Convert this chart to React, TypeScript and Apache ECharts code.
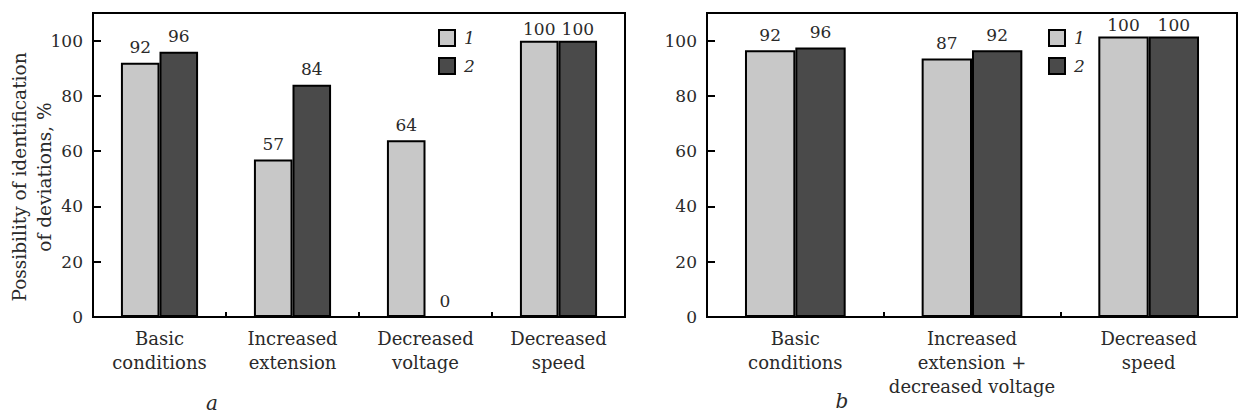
import React, { useEffect, useRef } from "react";
import * as echarts from "echarts";

const categoriesA = ["Basic\nconditions", "Increased\nextension", "Decreased\nvoltage", "Decreased\nspeed"];
const valuesA1 = [92, 57, 64, 100];
const valuesA2 = [96, 84, 0, 100];

const categoriesB = ["Basic\nconditions", "Increased\nextension +\ndecreased voltage", "Decreased\nspeed"];
// bar heights as drawn in panel b
const valuesB1 = [96.5, 93.5, 101.5];
const valuesB2 = [97.5, 96.5, 101.5];
// value labels printed above the bars in panel b
const labelsB1 = [92, 87, 100];
const labelsB2 = [96, 92, 100];

const seriesNames = ["1", "2"];
const yTicks = [0, 20, 40, 60, 80, 100];

const FONT = "DejaVu Serif";
const LIGHT = "#c8c8c8";
const DARK = "#4a4a4a";
const TEXT = "#2a2a2a";

export default function App() {
  const ref = useRef<HTMLDivElement>(null);
  useEffect(() => {
    if (!ref.current) return;
    const chart = echarts.init(ref.current, undefined, { renderer: "svg" });

    const grids = [
      { left: 93, top: 13, width: 532, height: 304 },
      { left: 707, top: 13, width: 530, height: 304 },
    ];

    const xAxis = [categoriesA, categoriesB].map((cats, i) => ({
      type: "category",
      gridIndex: i,
      data: cats,
      axisLine: { show: true, lineStyle: { color: "#000", width: 2 } },
      axisTick: { show: true, inside: true, length: 5, lineStyle: { color: "#000", width: 2 } },
      axisLabel: {
        fontFamily: FONT,
        fontSize: 18,
        lineHeight: 24,
        color: TEXT,
        margin: 9,
        interval: 0,
      },
    }));

    const yAxis = [0, 1].map((i) => ({
      type: "value",
      gridIndex: i,
      min: 0,
      max: 110,
      interval: 20,
      splitLine: { show: false },
      axisLine: { show: true, lineStyle: { color: "#000", width: 2 } },
      axisTick: { show: true, inside: true, length: 8, lineStyle: { color: "#000", width: 2 } },
      axisLabel: {
        fontFamily: FONT,
        fontSize: 17,
        color: TEXT,
        margin: 10,
        showMaxLabel: false,
        formatter: (v: number) => (yTicks.includes(v) ? String(v) : ""),
      },
    }));

    const labelBase = {
      show: true,
      position: "top",
      distance: 7,
      fontFamily: FONT,
      fontSize: 17,
      color: TEXT,
    };

    const mkSeries = (
      name: string,
      grid: number,
      values: number[],
      labels: number[],
      color: string,
      bw: string
    ) => ({
      name,
      type: "bar",
      xAxisIndex: grid,
      yAxisIndex: grid,
      barWidth: bw,
      barGap: "0%",
      itemStyle: { color, borderColor: "#000", borderWidth: 2 },
      data: values.map((v, k) => ({
        value: v,
        label: { ...labelBase, distance: labels[k] >= 100 ? 3 : 7, formatter: () => String(labels[k]) },
      })),
    });

    const option = {
      animation: false,
      backgroundColor: "#fff",
      grid: grids.map((g) => ({ ...g, show: true, borderColor: "#000", borderWidth: 2, containLabel: false })),
      xAxis,
      yAxis,
      legend: [
        { left: 433, top: 24 },
        { left: 1043, top: 24 },
      ].map((p) => ({
        ...p,
        orient: "vertical",
        data: seriesNames,
        icon: "rect",
        itemWidth: 16,
        itemHeight: 16,
        itemGap: 10,
        selectedMode: false,
        textStyle: {
          fontFamily: FONT,
          fontStyle: "italic",
          fontSize: 17,
          color: TEXT,
          padding: [0, 0, 0, 4],
        },
      })),
      series: [
        mkSeries(seriesNames[0], 0, valuesA1, valuesA1, LIGHT, "29%"),
        mkSeries(seriesNames[1], 0, valuesA2, valuesA2, DARK, "29%"),
        mkSeries(seriesNames[0], 1, valuesB1, labelsB1, LIGHT, "28.5%"),
        mkSeries(seriesNames[1], 1, valuesB2, labelsB2, DARK, "28.5%"),
      ],
      graphic: [
        {
          type: "text",
          x: 32,
          y: 177,
          rotation: Math.PI / 2,
          style: {
            text: "Possibility of identification\nof deviations, %",
            fontFamily: FONT,
            fontSize: 18.5,
            lineHeight: 25,
            fill: TEXT,
            align: "center",
            verticalAlign: "middle",
          },
        },
        {
          type: "text",
          x: 212,
          y: 403,
          style: {
            text: "a",
            fontFamily: FONT,
            fontStyle: "italic",
            fontSize: 20,
            fill: TEXT,
            align: "center",
            verticalAlign: "middle",
          },
        },
        {
          type: "text",
          x: 842,
          y: 401,
          style: {
            text: "b",
            fontFamily: FONT,
            fontStyle: "italic",
            fontSize: 20,
            fill: TEXT,
            align: "center",
            verticalAlign: "middle",
          },
        },
      ],
    };

    chart.setOption(option as any);
    return () => chart.dispose();
  }, []);

  return (
    <div
      ref={ref}
      style={{ position: "absolute", left: 0, top: 0, width: 1238, height: 416 }}
    />
  );
}
